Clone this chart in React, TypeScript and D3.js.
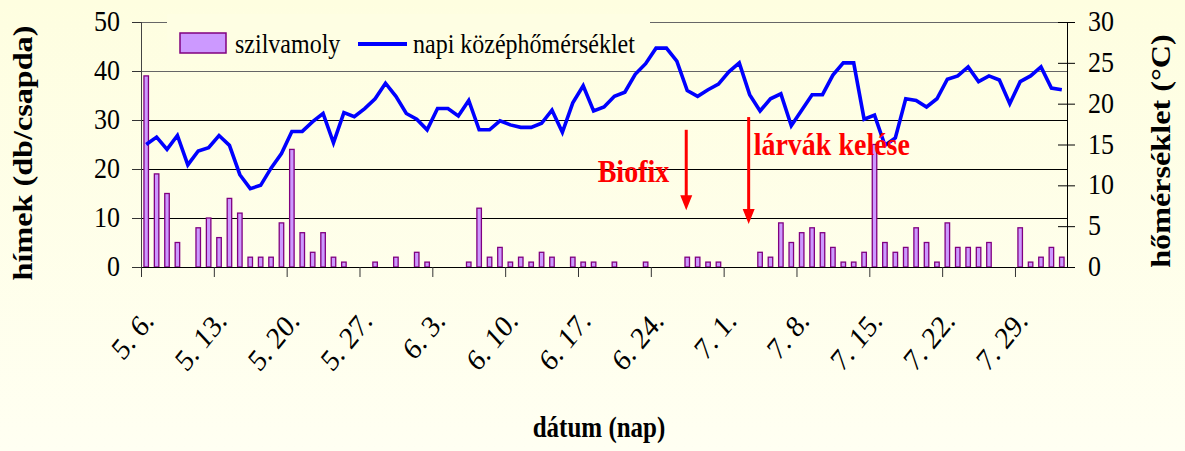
import React, { useEffect, useRef } from "react";
import * as d3 from "d3";

const W = 1185;
const H = 451;

// days 5.6. .. 8.2.
const days = d3.timeDay.range(new Date(2000, 4, 6), new Date(2000, 7, 3));
const dayLabels = days.map(d => `${d.getMonth() + 1}. ${d.getDate()}.`);

// szilvamoly catch (db/csapda), one per day
const moths = [
  39, 19, 15, 5, 0, 8, 10, 6, 14, 11, 2, 2, 2, 9, 24, 7, 3, 7, 2, 1,
  0, 0, 1, 0, 2, 0, 3, 1, 0, 0, 0, 1, 12, 2, 4, 1, 2, 1, 3, 2,
  0, 2, 1, 1, 0, 1, 0, 0, 1, 0, 0, 0, 2, 2, 1, 1, 0, 0, 0, 3,
  2, 9, 5, 7, 8, 7, 4, 1, 1, 3, 25, 5, 3, 4, 8, 5, 1, 9, 4, 4,
  4, 5, 0, 0, 8, 1, 2, 4, 2,
];

// napi középhőmérséklet (°C)
const temps = [
  15.0, 15.9, 14.4, 16.1, 12.5, 14.2, 14.6, 16.1, 14.9, 11.3, 9.6, 10.0, 12.1, 13.9, 16.6, 16.6, 17.8, 18.8, 15.2, 18.9,
  18.4, 19.4, 20.6, 22.5, 20.9, 18.8, 18.1, 16.8, 19.4, 19.4, 18.5, 20.4, 16.8, 16.8, 17.9, 17.4, 17.1, 17.1, 17.6, 19.2,
  16.5, 20.1, 22.2, 19.1, 19.6, 20.9, 21.4, 23.6, 24.9, 26.8, 26.8, 25.2, 21.6, 20.9, 21.7, 22.4, 23.9, 25.0, 21.1, 19.1,
  20.6, 21.2, 17.3, 19.2, 21.1, 21.1, 23.5, 25.0, 25.0, 18.1, 18.6, 14.9, 15.8, 20.6, 20.4, 19.6, 20.6, 23.0, 23.4, 24.5,
  22.7, 23.4, 22.9, 20.0, 22.7, 23.4, 24.5, 21.9, 21.7,
];

const leftTicks = [0, 10, 20, 30, 40, 50];
const rightTicks = [0, 5, 10, 15, 20, 25, 30];

const annotations = [
  { label: "Biofix", day: 52, from: 28, to: 11.6, side: "left" },
  { label: "lárvák kelése", day: 58, from: 30.6, to: 8.8, side: "right" },
];

const serif = "'Liberation Serif', 'Times New Roman', serif";
const STRETCH = 1.15; // the original picture is a bit taller than wide

const App = () => {
  const svgRef = useRef<SVGSVGElement>(null);

  useEffect(() => {
    const svg = d3.select(svgRef.current);
    svg.selectAll("*").remove();

    const margin = { top: 22, right: 118, bottom: 184, left: 141 };
    const x0 = margin.left;
    const x1 = W - margin.right;
    const yBase = H - margin.bottom;

    const x = d3.scaleLinear().domain([0, days.length]).range([x0, x1]);
    const yL = d3.scaleLinear().domain([0, 50]).range([yBase, margin.top]);
    const yR = d3.scaleLinear().domain([0, 30]).range([yBase, margin.top]);
    const barW = 4.5;

    const st = (tx: number, ty: number, rot = 0) =>
      `translate(${tx},${ty}) scale(1,${STRETCH})` + (rot ? ` rotate(${rot})` : "");

    // background
    const defs = svg.append("defs");
    const grad = defs.append("linearGradient")
      .attr("id", "bg").attr("x1", 0).attr("y1", 0).attr("x2", 0).attr("y2", 1);
    grad.append("stop").attr("offset", "0%").attr("stop-color", "#fefee0");
    grad.append("stop").attr("offset", "100%").attr("stop-color", "#fffff2");
    svg.append("rect").attr("width", W).attr("height", H).attr("fill", "url(#bg)");

    // gridlines
    svg.append("g")
      .selectAll("line")
      .data(leftTicks.filter(d => d > 0))
      .join("line")
      .attr("x1", x0).attr("x2", x1)
      .attr("y1", d => yL(d) + 0.5).attr("y2", d => yL(d) + 0.5)
      .attr("stroke", d => (d >= 40 ? "#666" : "#000"))
      .attr("stroke-width", 1);

    // legend background hides the top line behind it
    const legend = svg.append("g");
    legend.append("rect")
      .attr("x", 167).attr("y", 14).attr("width", 483).attr("height", 50)
      .attr("fill", "#fefee3");
    legend.append("rect")
      .attr("x", 180).attr("y", 33).attr("width", 46).attr("height", 20)
      .attr("fill", "#cc99ff").attr("stroke", "#800080").attr("stroke-width", 1.5);
    legend.append("text")
      .attr("transform", st(235, 53))
      .attr("font-family", serif).attr("font-size", 24)
      .text("szilvamoly");
    legend.append("line")
      .attr("x1", 358).attr("x2", 407).attr("y1", 44).attr("y2", 44)
      .attr("stroke", "#0000ff").attr("stroke-width", 4);
    legend.append("text")
      .attr("transform", st(413, 53))
      .attr("font-family", serif).attr("font-size", 24)
      .text("napi középhőmérséklet");

    // bars
    svg.append("g")
      .selectAll("rect")
      .data(moths.map((v, i) => ({ v, i })).filter(d => d.v > 0))
      .join("rect")
      .attr("x", d => x(d.i + 0.5) - barW / 2)
      .attr("y", d => yL(d.v))
      .attr("width", barW)
      .attr("height", d => yBase - yL(d.v))
      .attr("fill", "#cc99ff")
      .attr("stroke", "#800080")
      .attr("stroke-width", 1.3);

    // temperature line
    const line = d3.line<number>()
      .x((_, i) => x(i + 0.5))
      .y(d => yR(d));
    svg.append("path")
      .datum(temps)
      .attr("d", line)
      .attr("fill", "none")
      .attr("stroke", "#0000ff")
      .attr("stroke-width", 3.6)
      .attr("stroke-linejoin", "miter");

    // axes
    svg.append("line")
      .attr("x1", x0 + 0.5).attr("x2", x0 + 0.5)
      .attr("y1", margin.top).attr("y2", yBase)
      .attr("stroke", "#444");
    svg.append("line")
      .attr("x1", x1 + 0.5).attr("x2", x1 + 0.5)
      .attr("y1", margin.top).attr("y2", yBase)
      .attr("stroke", "#000");
    svg.append("line")
      .attr("x1", x0 - 9).attr("x2", x1)
      .attr("y1", yBase + 0.5).attr("y2", yBase + 0.5)
      .attr("stroke", "#000");

    // left ticks
    const lt = svg.append("g");
    lt.selectAll("line")
      .data(leftTicks)
      .join("line")
      .attr("x1", x0 - 9).attr("x2", x0)
      .attr("y1", d => yL(d) + 0.5).attr("y2", d => yL(d) + 0.5)
      .attr("stroke", "#333");
    lt.selectAll("text")
      .data(leftTicks)
      .join("text")
      .attr("transform", d => st(120, yL(d) + 9))
      .attr("text-anchor", "end")
      .attr("font-family", serif).attr("font-size", 26)
      .text(d => d);

    // right ticks
    const rt = svg.append("g");
    rt.selectAll("line")
      .data(rightTicks)
      .join("line")
      .attr("x1", x1 - 9).attr("x2", x1 + 8)
      .attr("y1", d => yR(d) + 0.5).attr("y2", d => yR(d) + 0.5)
      .attr("stroke", "#000");
    rt.selectAll("text")
      .data(rightTicks)
      .join("text")
      .attr("transform", d => st(1088, yR(d) + 9))
      .attr("font-family", serif).attr("font-size", 26)
      .text(d => d);

    // bottom ticks and labels, every 7th day
    const weekIdx = d3.range(0, days.length, 7);
    const bt = svg.append("g");
    bt.selectAll("line")
      .data(weekIdx)
      .join("line")
      .attr("x1", d => x(d) + 0.5).attr("x2", d => x(d) + 0.5)
      .attr("y1", yBase).attr("y2", yBase + 10)
      .attr("stroke", "#333");
    bt.selectAll("text")
      .data(weekIdx)
      .join("text")
      .attr("transform", d => st(x(d + 0.5) + 9, yBase + 55, -47))
      .attr("text-anchor", "end")
      .attr("font-family", serif).attr("font-size", 27)
      .text(d => dayLabels[d]);

    // axis titles
    svg.append("text")
      .attr("transform", st(32, 153, -90))
      .attr("text-anchor", "middle")
      .attr("font-family", serif).attr("font-size", 28).attr("font-weight", "bold")
      .text("hímek (db/csapda)");
    svg.append("text")
      .attr("transform", st(1170, 151, -90))
      .attr("text-anchor", "middle")
      .attr("font-family", serif).attr("font-size", 28).attr("font-weight", "bold")
      .text("hőmérséklet (°C)");
    svg.append("text")
      .attr("transform", st(599, 437))
      .attr("text-anchor", "middle")
      .attr("font-family", serif).attr("font-size", 25).attr("font-weight", "bold")
      .text("dátum (nap)");

    // annotations
    const ann = svg.append("g");
    annotations.forEach(a => {
      const ax = x(a.day + 0.5) - 1;
      const yTop = yL(a.from);
      const yTip = yL(a.to);
      ann.append("line")
        .attr("x1", ax).attr("x2", ax)
        .attr("y1", yTop).attr("y2", yTip - 12)
        .attr("stroke", "#ff0000").attr("stroke-width", 3);
      ann.append("path")
        .attr("d", `M${ax - 6},${yTip - 15}L${ax + 6},${yTip - 15}L${ax},${yTip}Z`)
        .attr("fill", "#ff0000");
      const t = ann.append("text")
        .attr("font-family", serif).attr("font-size", 28).attr("font-weight", "bold")
        .attr("fill", "#ff0000")
        .text(a.label);
      if (a.side === "left") {
        t.attr("transform", st(ax - 17, 182)).attr("text-anchor", "end");
      } else {
        t.attr("transform", st(ax + 5, 155));
      }
    });
  }, []);

  return (
    <div style={{ position: "fixed", left: 0, top: 0 }}>
      <svg ref={svgRef} width={W} height={H} style={{ display: "block" }} />
    </div>
  );
};

export default App;
